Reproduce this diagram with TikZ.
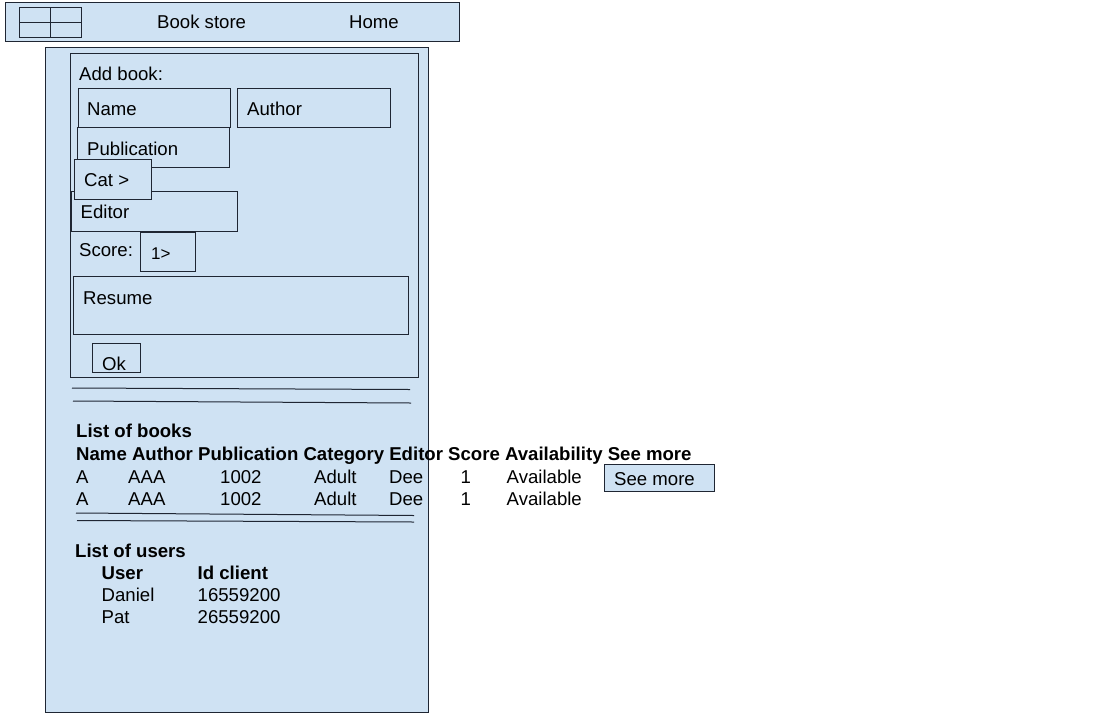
\documentclass[tikz,border=0pt]{standalone}
\usepackage{fontspec}
\setmainfont{Liberation Sans}
\definecolor{paper}{HTML}{CFE2F3}
\definecolor{edge}{HTML}{1F2633}
\begin{document}
\begin{tikzpicture}[x=1pt, y=-1pt,
    field/.style ={draw=edge, fill=paper, line width=1pt, anchor=north west,
                   inner sep=0pt, outer sep=0pt},
    caption/.style ={anchor=west, inner sep=0pt, text height=13.3pt, text depth=0pt,
                   font=\fontsize{18.6}{21}\selectfont},
    heading/.style ={caption, font=\fontsize{18.6}{21}\selectfont\bfseries},
    rule/.style ={draw=edge, line width=1pt}]
   \useasboundingbox (0,0) rectangle (1114,724);
   % top bar
   \node[field, minimum width=454pt, minimum height=39pt] (bar)  at (5,2)  {};
   \node[field, minimum width=62pt, minimum height=30pt] (menu)  at (19,7)  {};
   \draw[rule] (menu.north) -- (menu.south);
   \draw[rule] (menu.west) -- (menu.east);
   \node[caption] (store)  at (157,21.5)  {Book store};
   \node[caption] (home)  at (349,21.5)  {Home};
   % page
   \node[field, minimum width=383pt, minimum height=665pt] (page)  at (45,47)  {};
   \node[field, minimum width=348pt, minimum height=324pt] (form)  at (70,53)  {};
   \node[caption] (addbook)  at (79,74)  {Add book:};
   \node[field, minimum width=152pt, minimum height=39pt] (name)  at (78,88)  {};
   \node[field, minimum width=153pt, minimum height=39pt] (author)  at (237,88)  {};
   \node[field, minimum width=152pt, minimum height=40pt] (publication)  at (77,127)  {};
   \node[field, minimum width=166pt, minimum height=40pt] (editor)  at (71,191)  {};
   \node[field, minimum width=77pt, minimum height=40pt] (cat)  at (74,159)  {};
   \node[field, minimum width=55pt, minimum height=39pt] (score)  at (140,232)  {};
   \node[field, minimum width=335pt, minimum height=58pt] (resume)  at (73,276)  {};
   \node[field, minimum width=48pt, minimum height=29pt] (ok)  at (92,343)  {};
   \node[caption] (name text)  at (87,108.5)  {Name};
   \node[caption] (author text)  at (247,108.5)  {Author};
   \node[caption] (publication text)  at (87,148.5)  {Publication};
   \node[caption] (cat text)  at (84,180)  {Cat >};
   \node[caption] (editor text)  at (80.5,212)  {Editor};
   \node[caption] (score label)  at (79,249.5)  {Score:};
   \node[caption, font=\fontsize{17}{19}\selectfont, text height=12pt] (score text)  at (151,253)  {1>};
   \node[caption] (resume text)  at (83,297.5)  {Resume};
   \node[caption] (ok text)  at (102,363.5)  {Ok};
   \draw[rule] (72,388) -- (410,389.5);
   \draw[rule] (73,401) -- (411,403);
   % books
   \node[heading] (books)  at (76,431)  {List of books};
   \node[heading] (columns)  at (76,454)  {Name Author Publication Category Editor Score Availability See more};
   \foreach \y in {476.5,499} {
     \node[caption] at (76,\y)  {A};
     \node[caption] at (128,\y)  {AAA};
     \node[caption] at (220,\y)  {1002};
     \node[caption] at (314,\y)  {Adult};
     \node[caption] at (389,\y)  {Dee};
     \node[caption] at (460.5,\y)  {1};
     \node[caption] at (506.5,\y)  {Available};
   }
   \node[field, minimum width=110pt, minimum height=27pt] (seemore)  at (604,464)  {};
   \node[caption] (seemore text)  at (614,478.5)  {See more};
   \draw[rule] (76,513) -- (414,515.5);
   \draw[rule] (77,520.5) -- (414,522);
   % users
   \node[heading] (users)  at (75,551)  {List of users};
   \node[heading] (user)  at (101.5,573)  {User};
   \node[heading] (client)  at (197.5,573)  {Id client};
   \node[caption] (daniel)  at (101.5,595)  {Daniel};
   \node[caption] (daniel id)  at (197.5,595)  {16559200};
   \node[caption] (pat)  at (101.5,616.5)  {Pat};
   \node[caption] (pat id)  at (197.5,616.5)  {26559200};
 \end{tikzpicture}
\end{document}
